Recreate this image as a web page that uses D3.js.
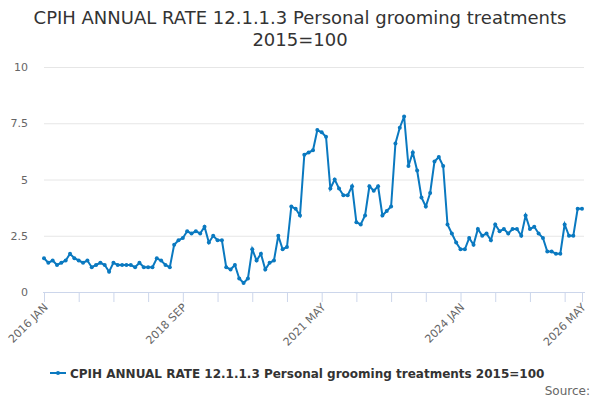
<!DOCTYPE html>
<html>
<head>
<meta charset="utf-8">
<script src="https://cdn.jsdelivr.net/npm/d3@7"></script>
<style>
  body { margin: 0; background: #fff; }
  svg { font-family: "DejaVu Sans", Verdana, sans-serif; }
</style>
</head>
<body>
<div id="chart"></div>
<script>
// monthly values, 2016 JAN .. 2026 MAY
var startYear = 2016;
var values = [
    1.5, 1.3, 1.4, 1.2, 1.3, 1.4, 1.7, 1.5, 1.4, 1.3,
    1.4, 1.1, 1.2, 1.3, 1.2, 0.9, 1.3, 1.2, 1.2, 1.2,
    1.2, 1.1, 1.3, 1.1, 1.1, 1.1, 1.5, 1.4, 1.2, 1.1,
    2.1, 2.3, 2.4, 2.7, 2.6, 2.7, 2.6, 2.9, 2.2, 2.5,
    2.3, 2.3, 1.1, 1.0, 1.2, 0.6, 0.4, 0.6, 1.9, 1.4,
    1.7, 1.0, 1.3, 1.4, 2.5, 1.9, 2.0, 3.8, 3.7, 3.4,
    6.1, 6.2, 6.3, 7.2, 7.1, 6.9, 4.6, 5.0, 4.6, 4.3,
    4.3, 4.7, 3.1, 3.0, 3.4, 4.7, 4.5, 4.7, 3.4, 3.6,
    3.8, 6.6, 7.3, 7.8, 5.6, 6.2, 5.4, 4.2, 3.8, 4.4,
    5.8, 6.0, 5.6, 3.0, 2.6, 2.2, 1.9, 1.9, 2.4, 2.1,
    2.8, 2.5, 2.6, 2.3, 3.0, 2.7, 2.8, 2.6, 2.8, 2.8,
    2.5, 3.4, 2.8, 2.9, 2.6, 2.4, 1.8, 1.8, 1.7, 1.7,
    3.0, 2.5, 2.5, 3.7, 3.7
];
var monthNames = ["JAN", "FEB", "MAR", "APR", "MAY", "JUN", "JUL", "AUG", "SEP", "OCT", "NOV", "DEC"];
var yTicks = [0, 2.5, 5, 7.5, 10];
var xTickEvery = 8;
var xLabelIdx = [0, 32, 64, 96, 124];
var seriesName = "CPIH ANNUAL RATE 12.1.1.3 Personal grooming treatments 2015=100";
var titleLines = ["CPIH ANNUAL RATE 12.1.1.3 Personal grooming treatments", "2015=100"];

var data = values.map(function (v, i) {
    return {
        idx: i,
        label: (startYear + Math.floor(i / 12)) + " " + monthNames[i % 12],
        value: v
    };
});

var W = 600, H = 400;
var margin = { top: 67, right: 16, bottom: 108, left: 44 };
var width = W - margin.left - margin.right,
    height = H - margin.top - margin.bottom;

var svg = d3.select("#chart")
    .append("svg")
    .attr("width", W)
    .attr("height", H);

// title
svg.append("text")
    .attr("x", W / 2)
    .attr("y", 24)
    .attr("text-anchor", "middle")
    .attr("fill", "#333333")
    .style("font-size", "18px")
    .selectAll("tspan")
    .data(titleLines)
    .enter()
    .append("tspan")
    .attr("x", W / 2)
    .attr("dy", function (d, i) { return i === 0 ? 0 : 22; })
    .text(function (d) { return d; });

var g = svg.append("g")
    .attr("transform", "translate(" + margin.left + "," + margin.top + ")");

var x = d3.scaleLinear()
    .domain([0, values.length - 1])
    .range([0, width - 2]);

var y = d3.scaleLinear()
    .domain([0, 10])
    .range([height, 0]);

// grid + y labels
var yAxis = g.append("g")
    .call(d3.axisLeft(y)
        .tickValues(yTicks)
        .tickSize(-width)
        .tickPadding(16)
        .tickFormat(function (d) { return d; }));
yAxis.select(".domain").remove();
yAxis.selectAll(".tick line").attr("stroke", "#e6e6e6");
yAxis.selectAll(".tick text")
    .attr("fill", "#666666")
    .style("font-size", "11px")
    .style("font-family", "DejaVu Sans");

// x axis
var xTicks = d3.range(0, values.length, xTickEvery).concat([values.length - 1]);
var xAxis = g.append("g")
    .attr("transform", "translate(0," + height + ")")
    .call(d3.axisBottom(x)
        .tickValues(xTicks)
        .tickSize(10)
        .tickSizeOuter(0)
        .tickFormat(function (d) {
            return xLabelIdx.indexOf(d) >= 0 ? data[d].label : "";
        }));
xAxis.select(".domain")
    .attr("stroke", "#ccd6eb")
    .attr("d", "M-1,0.5H" + (width + 1));
xAxis.selectAll(".tick line").attr("stroke", "#ccd6eb");
xAxis.selectAll(".tick text")
    .attr("fill", "#666666")
    .style("font-size", "11px")
    .style("font-family", "DejaVu Sans")
    .attr("text-anchor", "end")
    .attr("dy", null)
    .attr("y", 0)
    .attr("transform", "translate(4,16) rotate(-45)");

// line
var blue = "#0a79c0";
g.append("path")
    .datum(data)
    .attr("fill", "none")
    .attr("stroke", blue)
    .attr("stroke-width", 2)
    .attr("d", d3.line()
        .x(function (d) { return x(d.idx); })
        .y(function (d) { return y(d.value); }));

g.append("g")
    .selectAll("circle")
    .data(data)
    .enter()
    .append("circle")
    .attr("cx", function (d) { return x(d.idx); })
    .attr("cy", function (d) { return y(d.value); })
    .attr("r", 2)
    .attr("fill", blue);

// legend
var legend = svg.append("g").attr("transform", "translate(50,373)");
legend.append("line")
    .attr("x1", 0).attr("x2", 16)
    .attr("y1", 0).attr("y2", 0)
    .attr("stroke", blue)
    .attr("stroke-width", 2);
legend.append("circle")
    .attr("cx", 8).attr("cy", 0).attr("r", 2)
    .attr("fill", blue);
legend.append("text")
    .attr("x", 20)
    .attr("y", 5)
    .attr("fill", "#333333")
    .style("font-size", "12px")
    .style("font-weight", "bold")
    .text(seriesName);

// credits
svg.append("text")
    .attr("x", 590)
    .attr("y", 395)
    .attr("text-anchor", "end")
    .attr("fill", "#666666")
    .style("font-size", "12px")
    .text("Source:");
</script>
</body>
</html>
